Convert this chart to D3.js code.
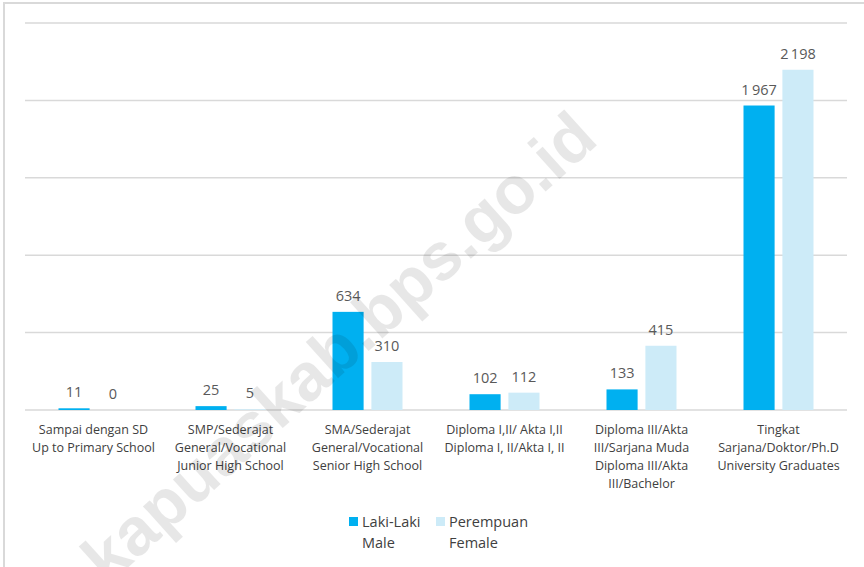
<!DOCTYPE html>
<html><head><meta charset="utf-8">
<script src="https://cdn.jsdelivr.net/npm/d3@7/dist/d3.min.js"></script>
<style>body{margin:0;background:#fff}svg{display:block}</style>
</head><body>
<svg id="c" width="864" height="567"></svg>
<script>
const categories = [
  ["Sampai dengan SD","Up to Primary School"],
  ["SMP/Sederajat","General/Vocational","Junior High School"],
  ["SMA/Sederajat","General/Vocational","Senior High School"],
  ["Diploma I,II/ Akta I,II","Diploma I, II/Akta I, II"],
  ["Diploma III/Akta","III/Sarjana Muda","Diploma III/Akta","III/Bachelor"],
  ["Tingkat","Sarjana/Doktor/Ph.D","University Graduates"]
];
const male = [11, 25, 634, 102, 133, 1967];
const female = [0, 5, 310, 112, 415, 2198];
const seriesNames = [["Laki-Laki","Male"],["Perempuan","Female"]];
const yTicks = [0, 500, 1000, 1500, 2000, 2500];
const colors = ["#00b0f0", "#cdebf8"];

const svg = d3.select("#c");
const font = "'Open Sans', sans-serif";
svg.append("rect").attr("x",4).attr("y",3).attr("width",900).attr("height",600)
  .attr("fill","#fff").attr("stroke","#d9d9d9").attr("stroke-width",2);

const x0 = d3.scaleBand().domain(d3.range(categories.length)).range([25, 847]);
const y = d3.scaleLinear().domain([0, 2500]).range([410, 23]);
const x1 = d3.scaleBand().domain([0,1]).range([-35, 35]).paddingInner(0.2);

svg.append("g").selectAll("line").data(yTicks).join("line")
  .attr("x1",25).attr("x2",847).attr("y1",d=>y(d)).attr("y2",d=>y(d))
  .attr("stroke","#d9d9d9").attr("stroke-width",1.5);

const fmt = v => d3.format(",")(v).replace(/,/g, "\u2009");
const data = categories.map((c,i)=>[male[i], female[i]]);
const g = svg.append("g").selectAll("g").data(data).join("g")
  .attr("transform",(d,i)=>`translate(${x0(i)+x0.bandwidth()/2},0)`);
g.selectAll("rect").data(d=>d).join("rect")
  .attr("x",(d,j)=>x1(j)).attr("width",x1.bandwidth())
  .attr("y",d=>y(d)).attr("height",d=>y(0)-y(d))
  .attr("fill",(d,j)=>colors[j]);
g.selectAll("text").data(d=>d).join("text")
  .attr("x",(d,j)=>x1(j)+x1.bandwidth()/2).attr("y",d=>y(d)-11)
  .attr("text-anchor","middle").attr("font-family",font).attr("font-size",14.5)
  .attr("fill","#595959").text(d=>fmt(d));

const lab = svg.append("g").selectAll("text").data(categories).join("text")
  .attr("text-anchor","middle").attr("font-family",font).attr("font-size",12.5)
  .attr("fill","#404040")
  .attr("transform",(d,i)=>`translate(${x0(i)+x0.bandwidth()/2},434)`);
lab.selectAll("tspan").data(d=>d).join("tspan")
  .attr("x",0).attr("y",(d,k)=>k*18).text(d=>d);

const leg = svg.append("g").selectAll("g").data(seriesNames).join("g")
  .attr("transform",(d,i)=>`translate(${349 + i*87},517)`);
leg.append("rect").attr("width",9).attr("height",9).attr("fill",(d,i)=>colors[i]);
leg.append("text").attr("font-family",font).attr("font-size",14.5).attr("fill","#404040")
  .selectAll("tspan").data(d=>d).join("tspan")
  .attr("x",13).attr("y",(d,k)=>10+k*21).text(d=>d);

svg.append("text").attr("transform","translate(354,364) rotate(-42)")
  .attr("text-anchor","middle").attr("font-family","'Liberation Sans', Arial, sans-serif")
  .attr("font-weight","bold").attr("font-size",67).attr("fill","#000").attr("opacity",0.09)
  .text("kapuaskab.bps.go.id");
</script>
</body></html>
